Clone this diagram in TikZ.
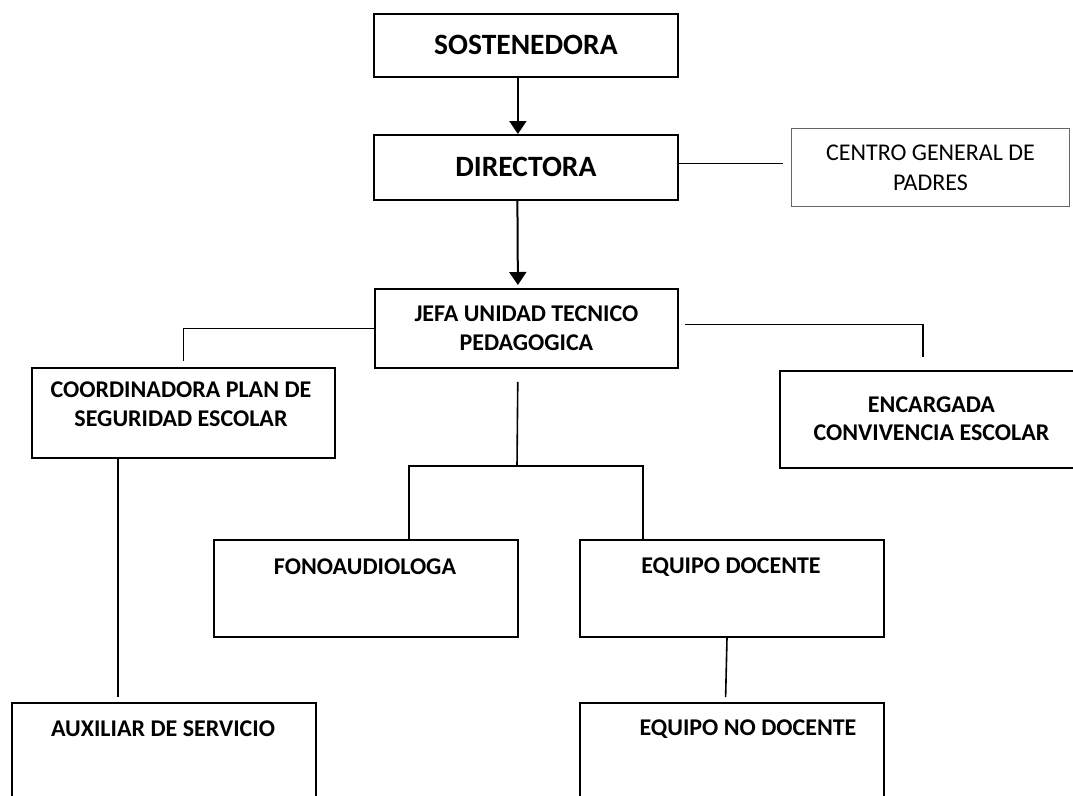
\documentclass[tikz,border=0pt]{standalone}
\usepackage{fontspec}
\setmainfont{Carlito}
\usetikzlibrary{arrows.meta}
\begin{document}
\begin{tikzpicture}[x=1pt,y=-1pt,
  box/.style={draw=black, line width=1.8pt, inner sep=0pt, anchor=north west, align=center},
  thinbox/.style={draw=black!60, line width=0.9pt, inner sep=0pt, anchor=north west, align=center,
    font=\fontsize{24}{30}\selectfont},
  conn/.style={line width=1.6pt},
  arr/.style={line width=2pt, -{Triangle[width=17pt,length=13pt]}},
  bigtxt/.style={font=\fontsize{29.5}{34}\selectfont\bfseries},
  txt/.style={font=\fontsize{24}{29}\selectfont\bfseries, align=center}]
\useasboundingbox (0,0) rectangle (1073,795);
\clip (0,0) rectangle (1073,795);
% boxes
\node[box, bigtxt, minimum width=304pt, minimum height=63pt] (sost) at (373,13) {SOSTENEDORA};
\node[box, bigtxt, minimum width=304pt, minimum height=65pt] (dir) at (373,134) {DIRECTORA};
\node[thinbox, minimum width=278pt, minimum height=78pt] (centro) at (791,128) {CENTRO GENERAL DE\\PADRES};
\node[box, txt, minimum width=303pt, minimum height=79pt] (jefa) at (374,288) {JEFA UNIDAD TECNICO\\PEDAGOGICA};
\node[box, minimum width=303pt, minimum height=90pt] (coord) at (31,367) {};
\node[box, minimum width=310pt, minimum height=97pt] (enc) at (779,370) {};
\node[box, minimum width=304pt, minimum height=97pt] (fono) at (213,539) {};
\node[box, minimum width=304pt, minimum height=97pt] (eqd) at (579,539) {};
\node[box, minimum width=304pt, minimum height=110pt] (aux) at (11,702) {};
\node[box, minimum width=304pt, minimum height=110pt] (eqnd) at (579,702) {};
% texts
\node[txt] (coordt) at (181,404) {COORDINADORA PLAN DE\\SEGURIDAD ESCOLAR};
\node[txt, font=\fontsize{24}{28}\selectfont\bfseries] (enct) at (931.5,419) {ENCARGADA\\CONVIVENCIA ESCOLAR};
\node[txt] (fonot) at (365,567) {FONOAUDIOLOGA};
\node[txt] (eqdt) at (731,567) {EQUIPO DOCENTE};
\node[txt] (auxt) at (163,729) {AUXILIAR DE SERVICIO};
\node[txt] (eqndt) at (748,729) {EQUIPO NO DOCENTE};
% connectors
\draw[arr] ([xshift=-8pt]sost.south) -- ([xshift=-8pt]dir.north);
\draw[arr, shorten >=3pt] ([xshift=-8.5pt]dir.south) -- ([xshift=-8.5pt]jefa.north);
\draw[conn, shorten >=8pt] ([yshift=4pt]dir.east |- centro.west) -- ([yshift=4pt]centro.west);
\draw[conn, shorten >=6pt] (jefa.west) -| (coord.north);
\draw[conn, shorten <=6pt, shorten >=13pt] ([yshift=4pt]jefa.east) -| ([xshift=144pt]enc.north west);
\coordinate (split) at (517,466);
\draw[conn, shorten <=13pt] ([xshift=-8.5pt]jefa.south) -- (split);
\draw[conn] ([xshift=196pt]fono.north west) |- (split) -| ([xshift=64pt]eqd.north west);
\draw[conn, shorten >=5pt] ([xshift=87pt]coord.south west) -- ([xshift=107pt]aux.north west);
\draw[conn, shorten >=5pt] ([xshift=148pt]eqd.south west) -- ([xshift=146.5pt]eqnd.north west);
\end{tikzpicture}
\end{document}
